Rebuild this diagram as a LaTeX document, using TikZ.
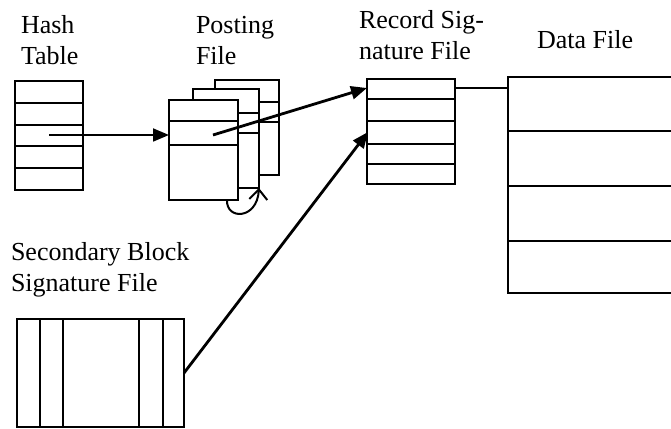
\documentclass[tikz,border=0pt]{standalone}
\usepackage{fontspec}
\setmainfont{Liberation Serif}
\usetikzlibrary{arrows.meta,positioning}

\begin{document}
\begin{tikzpicture}[x=1pt,y=1pt,line width=2pt,
  filebox/.style={draw, fill=white, inner sep=0pt, outer sep=0pt, anchor=north west},
  lbl/.style={anchor=base west, inner sep=0pt, align=left, font=\fontsize{26}{31}\selectfont},
  ptr/.style={-{Triangle[length=16pt,width=13pt]}, line width=2.8pt},
  thinptr/.style={-{Triangle[length=16pt,width=13pt]}, line width=1.8pt}]
\useasboundingbox (0,0) rectangle (671,428);
% hash table
\node[filebox, minimum width=68, minimum height=109] (hash) at (15,347) {};
\foreach \y in {1,...,4} \draw (hash.north west) ++(0,-\y*21.8) -- ++(68,0);
\coordinate (h3) at (49,293);
% posting file (three pages)
\node[filebox, minimum width=64, minimum height=95] (pback) at (215,348) {};
\foreach \y in {326,306} \draw (pback.west |- 0,\y) -- (pback.east |- 0,\y);
\node[filebox, minimum width=66, minimum height=99] (pmid) at (193,339) {};
\foreach \y in {315,295} \draw (pmid.west |- 0,\y) -- (pmid.east |- 0,\y);
\node[filebox, minimum width=69, minimum height=100] (pfront) at (169,328) {};
\foreach \y in {307,283} \draw (pfront.west |- 0,\y) -- (pfront.east |- 0,\y);
\coordinate (p2) at (213,293);
% record signature file
\node[filebox, minimum width=88, minimum height=105] (rsig) at (367,349) {};
\foreach \y in {329,307,284,264} \draw (rsig.west |- 0,\y) -- (rsig.east |- 0,\y);
\coordinate (r1) at (367,340);
\coordinate (r3) at (368,296);
% data file (runs off the right edge)
\node[filebox, minimum width=170, minimum height=216] (data) at (508,351) {};
\foreach \y in {297,242,187} \draw (data.west |- 0,\y) -- (data.east |- 0,\y);
% secondary block signature file
\node[filebox, minimum width=167, minimum height=108] (sblk) at (17,109) {};
\foreach \x in {40,63,139,163} \draw (\x,0 |- sblk.north) -- (\x,0 |- sblk.south);
% labels (anchored at the last line)
\node[lbl] (lhash) at (20,363) {Hash\\Table};
\node[lbl] (lpost) at (195,363) {Posting\\File};
\node[lbl] (lrsig) at (358,368) {Record Sig-\\nature File};
\node[lbl] (ldata) at (536,379) {Data File};
\node[lbl] (lsblk) at (10,136) {Secondary Block\\Signature File};
% pointers
\draw[thinptr] (h3) -- (pfront.west |- h3);
\draw[ptr] (p2) -- (r1);
\draw[ptr] (sblk.east) -- (r3);
\draw (rsig.east |- r1) -- (data.west |- r1);
\draw[-{Straight Barb[length=10pt,width=18pt]}] ([xshift=-11pt]pfront.south east)
  .. controls (226,208) and (257,208) .. (pmid.south east);
\end{tikzpicture}
\end{document}
